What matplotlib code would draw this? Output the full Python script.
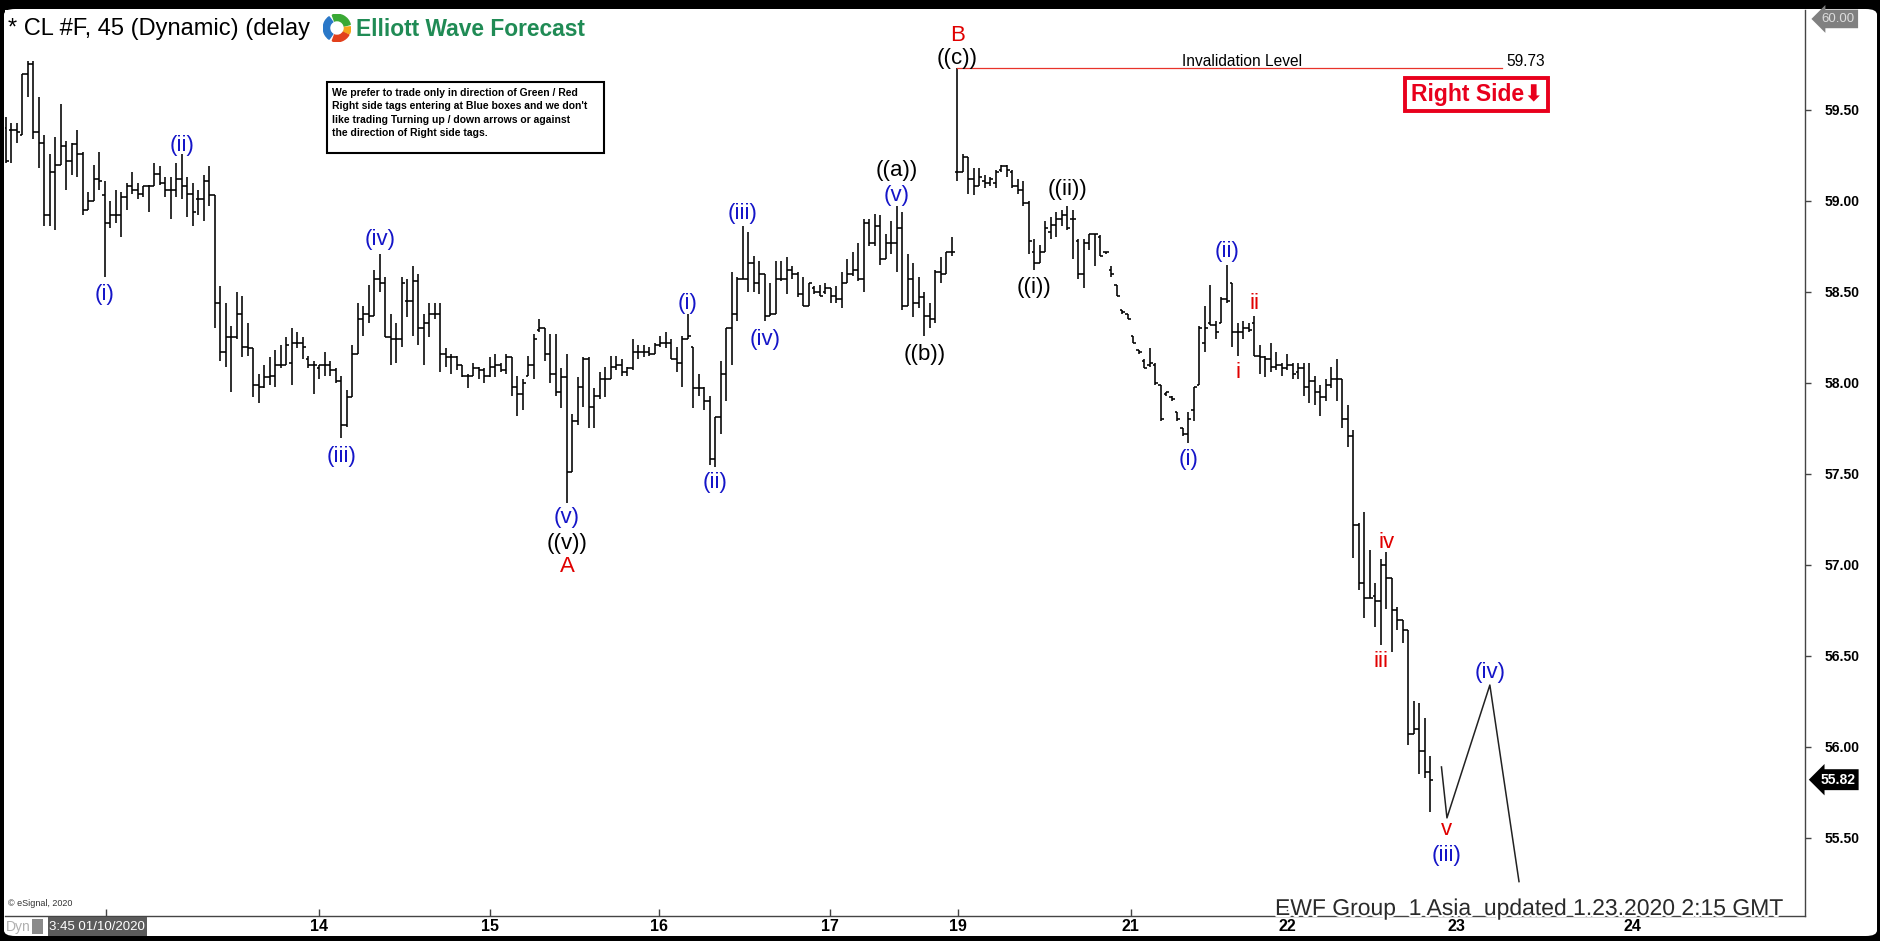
import numpy as np
import matplotlib
matplotlib.use("Agg")
import matplotlib.pyplot as plt
import matplotlib.patheffects as pe
from matplotlib.collections import LineCollection
from matplotlib.patches import Rectangle, FancyBboxPatch, Wedge

# --- CONFIG ---
W, H, DPI = 1881, 941, 100
BLUE = "#1515c8"
RED = "#e00000"
SANS = ["Liberation Sans", "DejaVu Sans"]
NARROW = ["Liberation Sans Narrow", "DejaVu Sans Condensed", "Liberation Sans", "DejaVu Sans"]

# --- DATA: CL #F 45 min bars ---
opens = [
    59.40, 59.39, 59.39, 59.36, 59.70, 59.75, 59.38, 59.32, 58.92, 59.16,
    59.20, 59.30, 59.22, 59.31, 59.26, 58.95, 59.00, 59.12, 59.03, 58.88,
    58.92, 58.92, 59.02, 59.08, 59.06, 59.04, 59.08, 59.08, 59.15, 59.10,
    59.06, 59.06, 59.12, 59.08, 59.04, 59.01, 59.01, 59.11, 59.03, 58.44,
    58.17, 58.25, 58.25, 58.38, 58.20, 58.19, 57.99, 57.98, 58.03, 58.04,
    58.10, 58.10, 58.11, 58.22, 58.22, 58.13, 58.10, 58.08, 58.10, 58.10,
    58.07, 58.01, 57.77, 57.92, 58.16, 58.35, 58.38, 58.37, 58.57, 58.55,
    58.25, 58.24, 58.24, 58.45, 58.45, 58.56, 58.30, 58.33, 58.38, 58.38,
    58.16, 58.14, 58.14, 58.10, 58.04, 58.04, 58.08, 58.07, 58.04, 58.09,
    58.10, 58.07, 58.14, 57.98, 57.94, 58.04, 58.10, 58.29, 58.30, 58.16,
    58.05, 57.95, 58.03, 57.51, 57.79, 57.98, 58.13, 57.87, 57.93, 58.02,
    58.02, 58.09, 58.10, 58.06, 58.08, 58.17, 58.17, 58.17, 58.16, 58.21,
    58.22, 58.22, 58.13, 58.11, 58.24, 58.20, 57.97, 57.97, 57.90, 57.58,
    57.81, 58.05, 58.30, 58.38, 58.57, 58.57, 58.66, 58.55, 58.60, 58.37,
    58.38, 58.57, 58.57, 58.62, 58.60, 58.49, 58.42, 58.52, 58.50, 58.50,
    58.52, 58.48, 58.46, 58.55, 58.60, 58.62, 58.57, 58.88, 58.77, 58.86,
    58.68, 58.77, 58.77, 58.85, 58.42, 58.57, 58.44, 58.47, 58.37, 58.35,
    58.61, 58.60, 58.72, 59.16, 59.16, 59.24, 59.12, 59.08, 59.11, 59.10,
    59.10, 59.17, 59.19, 59.16, 59.08, 59.06, 58.99, 58.72, 58.66, 58.72,
    58.83, 58.87, 58.90, 58.92, 58.90, 58.78, 58.60, 58.77, 58.82, 58.80,
    58.72, 58.62, 58.54, 58.40, 58.38, 58.26, 58.18, 58.12, 58.10, 58.10,
    57.99, 57.94, 57.92, 57.84, 57.75, 57.72, 57.85, 57.99, 58.22, 58.33,
    58.32, 58.33, 58.46, 58.55, 58.28, 58.28, 58.30, 58.33, 58.15, 58.14,
    58.13, 58.09, 58.10, 58.08, 58.10, 58.06, 58.08, 57.98, 58.01, 57.95,
    57.92, 57.99, 58.02, 58.02, 57.80, 57.71, 57.22, 56.90, 56.82, 56.83,
    56.80, 57.00, 56.93, 56.75, 56.70, 56.64, 56.07, 56.10, 55.98, 55.86,
]
highs = [
    59.46, 59.43, 59.43, 59.70, 59.77, 59.77, 59.57, 59.36, 59.26, 59.35,
    59.53, 59.33, 59.32, 59.39, 59.27, 59.05, 59.20, 59.27, 59.11, 59.00,
    59.06, 59.05, 59.10, 59.16, 59.10, 59.08, 59.09, 59.21, 59.19, 59.13,
    59.13, 59.21, 59.26, 59.13, 59.10, 59.06, 59.14, 59.19, 59.03, 58.53,
    58.44, 58.31, 58.50, 58.48, 58.33, 58.19, 58.05, 58.10, 58.14, 58.18,
    58.21, 58.25, 58.30, 58.28, 58.25, 58.15, 58.12, 58.10, 58.17, 58.12,
    58.08, 58.04, 57.96, 58.21, 58.44, 58.42, 58.54, 58.62, 58.71, 58.58,
    58.38, 58.33, 58.58, 58.57, 58.64, 58.60, 58.38, 58.44, 58.44, 58.44,
    58.19, 58.16, 58.15, 58.10, 58.05, 58.11, 58.09, 58.08, 58.14, 58.16,
    58.11, 58.16, 58.14, 58.04, 58.02, 58.15, 58.27, 58.35, 58.30, 58.27,
    58.27, 58.08, 58.16, 57.83, 58.03, 58.14, 58.14, 57.97, 58.06, 58.09,
    58.15, 58.15, 58.13, 58.09, 58.24, 58.21, 58.21, 58.20, 58.22, 58.26,
    58.28, 58.24, 58.20, 58.26, 58.38, 58.20, 58.05, 57.98, 57.93, 57.81,
    58.12, 58.30, 58.61, 58.58, 58.86, 58.83, 58.70, 58.67, 58.60, 58.55,
    58.67, 58.67, 58.69, 58.64, 58.61, 58.58, 58.55, 58.53, 58.54, 58.55,
    58.52, 58.53, 58.61, 58.68, 58.72, 58.77, 58.90, 58.90, 58.93, 58.92,
    58.82, 58.89, 58.97, 58.94, 58.71, 58.66, 58.58, 58.50, 58.44, 58.62,
    58.69, 58.72, 58.80, 59.73, 59.26, 59.24, 59.18, 59.18, 59.14, 59.13,
    59.17, 59.20, 59.20, 59.17, 59.12, 59.11, 59.00, 58.79, 58.76, 58.89,
    58.91, 58.94, 58.95, 58.97, 58.95, 58.79, 58.79, 58.82, 58.82, 58.81,
    58.72, 58.64, 58.54, 58.40, 58.38, 58.26, 58.18, 58.13, 58.19, 58.11,
    57.99, 57.95, 57.93, 57.84, 57.75, 57.84, 57.98, 58.31, 58.42, 58.54,
    58.34, 58.47, 58.65, 58.55, 58.33, 58.34, 58.33, 58.37, 58.21, 58.15,
    58.22, 58.17, 58.11, 58.16, 58.11, 58.11, 58.11, 58.11, 58.04, 57.99,
    58.02, 58.09, 58.13, 58.02, 57.88, 57.74, 57.23, 57.29, 57.08, 56.90,
    57.03, 57.07, 56.93, 56.77, 56.70, 56.64, 56.25, 56.24, 56.16, 55.95,
]
lows = [
    59.21, 59.21, 59.32, 59.36, 59.57, 59.34, 59.18, 58.86, 58.86, 58.84,
    59.20, 59.06, 59.14, 59.13, 58.92, 58.95, 59.00, 59.06, 58.58, 58.85,
    58.88, 58.80, 58.95, 59.04, 59.01, 59.02, 58.94, 59.08, 59.09, 59.02,
    58.90, 59.02, 59.01, 58.91, 58.86, 58.92, 58.89, 58.97, 58.30, 58.12,
    58.09, 57.95, 58.24, 58.14, 58.15, 57.92, 57.89, 57.97, 57.99, 57.98,
    58.08, 58.10, 57.99, 58.19, 58.13, 58.08, 57.94, 58.02, 58.04, 58.04,
    58.00, 57.70, 57.76, 57.92, 58.16, 58.26, 58.33, 58.37, 58.50, 58.25,
    58.10, 58.11, 58.20, 58.36, 58.26, 58.21, 58.10, 58.25, 58.35, 58.06,
    58.09, 58.05, 58.07, 58.03, 57.97, 58.04, 58.02, 58.00, 58.03, 58.03,
    58.06, 58.05, 57.93, 57.82, 57.85, 58.04, 58.02, 58.28, 58.12, 58.00,
    57.93, 57.86, 57.34, 57.51, 57.77, 57.87, 57.75, 57.75, 57.91, 57.92,
    58.02, 58.07, 58.04, 58.04, 58.07, 58.13, 58.14, 58.15, 58.16, 58.20,
    58.19, 58.13, 58.06, 57.98, 58.24, 57.86, 57.93, 57.85, 57.55, 57.54,
    57.72, 57.90, 58.10, 58.34, 58.57, 58.50, 58.50, 58.49, 58.34, 58.37,
    58.38, 58.56, 58.49, 58.57, 58.47, 58.42, 58.42, 58.49, 58.48, 58.49,
    58.44, 58.44, 58.41, 58.55, 58.59, 58.56, 58.50, 58.75, 58.75, 58.65,
    58.68, 58.71, 58.61, 58.40, 58.42, 58.36, 58.41, 58.26, 58.30, 58.33,
    58.55, 58.60, 58.70, 59.11, 59.16, 59.04, 59.03, 59.08, 59.07, 59.08,
    59.07, 59.16, 59.13, 59.07, 59.04, 58.97, 58.71, 58.62, 58.66, 58.72,
    58.79, 58.80, 58.86, 58.84, 58.68, 58.57, 58.52, 58.73, 58.64, 58.70,
    58.71, 58.58, 58.48, 58.38, 58.35, 58.22, 58.16, 58.08, 58.09, 57.99,
    57.79, 57.93, 57.90, 57.79, 57.71, 57.67, 57.79, 57.99, 58.17, 58.32,
    58.24, 58.33, 58.44, 58.20, 58.15, 58.24, 58.28, 58.15, 58.05, 58.03,
    58.06, 58.07, 58.04, 58.07, 58.02, 58.02, 57.93, 57.89, 57.88, 57.82,
    57.90, 57.97, 57.90, 57.75, 57.65, 57.04, 56.86, 56.71, 56.82, 56.66,
    56.56, 56.76, 56.52, 56.64, 56.57, 56.01, 56.07, 55.85, 55.83, 55.64,
]
closes = [
    59.22, 59.39, 59.38, 59.70, 59.75, 59.38, 59.32, 58.92, 59.16, 59.20,
    59.30, 59.22, 59.31, 59.26, 58.95, 59.00, 59.12, 59.11, 58.88, 58.92,
    58.92, 59.02, 59.08, 59.06, 59.04, 59.08, 59.08, 59.15, 59.10, 59.06,
    59.06, 59.12, 59.08, 59.04, 58.94, 59.01, 59.11, 59.03, 58.44, 58.17,
    58.25, 58.25, 58.38, 58.20, 58.19, 57.99, 57.98, 58.03, 58.04, 58.10,
    58.10, 58.21, 58.22, 58.22, 58.20, 58.10, 58.10, 58.10, 58.10, 58.07,
    58.01, 57.77, 57.92, 58.16, 58.35, 58.38, 58.37, 58.57, 58.55, 58.25,
    58.24, 58.24, 58.55, 58.45, 58.56, 58.30, 58.33, 58.38, 58.38, 58.16,
    58.14, 58.14, 58.10, 58.04, 58.04, 58.08, 58.07, 58.04, 58.09, 58.10,
    58.07, 58.14, 57.98, 57.94, 58.00, 58.10, 58.24, 58.30, 58.16, 58.05,
    57.95, 58.03, 57.51, 57.79, 57.98, 58.13, 57.87, 57.93, 58.02, 58.02,
    58.09, 58.10, 58.06, 58.08, 58.17, 58.17, 58.17, 58.16, 58.21, 58.22,
    58.22, 58.13, 58.11, 58.24, 58.26, 57.97, 57.97, 57.90, 57.58, 57.81,
    58.05, 58.30, 58.38, 58.57, 58.57, 58.66, 58.55, 58.60, 58.37, 58.38,
    58.57, 58.57, 58.62, 58.60, 58.49, 58.42, 58.55, 58.50, 58.48, 58.52,
    58.48, 58.46, 58.55, 58.60, 58.62, 58.57, 58.88, 58.77, 58.86, 58.68,
    58.77, 58.77, 58.85, 58.42, 58.57, 58.44, 58.47, 58.37, 58.35, 58.61,
    58.60, 58.72, 58.72, 59.16, 59.24, 59.12, 59.08, 59.13, 59.10, 59.12,
    59.16, 59.19, 59.17, 59.08, 59.06, 58.99, 58.78, 58.66, 58.72, 58.85,
    58.87, 58.90, 58.92, 58.85, 58.90, 58.60, 58.77, 58.82, 58.82, 58.70,
    58.72, 58.60, 58.48, 58.39, 58.35, 58.22, 58.17, 58.08, 58.11, 58.00,
    57.80, 57.95, 57.91, 57.80, 57.72, 57.80, 57.98, 58.30, 58.30, 58.32,
    58.28, 58.46, 58.45, 58.28, 58.28, 58.30, 58.29, 58.15, 58.14, 58.13,
    58.09, 58.10, 58.08, 58.10, 58.05, 58.08, 57.98, 58.01, 57.95, 57.92,
    57.99, 58.02, 58.02, 57.80, 57.71, 57.22, 56.90, 56.82, 56.82, 56.80,
    57.00, 56.93, 56.75, 56.70, 56.64, 56.07, 56.10, 55.98, 55.86, 55.82,
]

# day separators (bar index) and their labels; the first one sits under the time box
day_ticks = [18.1, 56.9, 88.0, 118.7, 149.8, 173.1, 204.5, 232.9, 263.8, 295.8]
day_labels = ["", "14", "15", "16", "17", "19", "21", "22", "23", "24"]
price_ticks = [55.5, 56.0, 56.5, 57.0, 57.5, 58.0, 58.5, 59.0, 59.5]

# projected path after the last bar: v of (iii), (iv), then lower
proj_x = [261.0, 262.0, 269.8, 275.1]
proj_y = [55.89, 55.61, 56.34, 55.26]

b_bar = 173          # wave B / ((c)) high
inv_end = 272        # end of invalidation line

# wave labels: bar, text, colour, offset in px from bar extreme (+ below low, - above high)
wave_bar = [18, 32, 61, 68, 102, 102, 102, 124, 129, 134, 138, 162, 162, 167,
            173, 173, 187, 193, 215, 222, 224, 227, 250, 251]
wave_text = ["(i)", "(ii)", "(iii)", "(iv)", "(v)", "((v))", "A", "(i)", "(ii)",
             "(iii)", "(iv)", "(v)", "((a))", "((b))", "((c))", "B", "((i))",
             "((ii))", "(i)", "(ii)", "i", "ii", "iii", "iv"]
wave_color = [BLUE, BLUE, BLUE, BLUE, BLUE, "black", RED, BLUE, BLUE, BLUE, BLUE,
              BLUE, "black", "black", "black", RED, "black", "black", BLUE, BLUE,
              RED, RED, RED, RED]
wave_dy = [17, -8, 19, -14, 14, 40, 63, -10, 16, -13, 18, -11, -36, 19,
           -10, -33, 17, -17, 17, -13, 17, -12, 16, -10]

# labels on the projected path: point index, text, colour, offset px
proj_lab_pt = [1, 1, 2]
proj_lab_text = ["v", "(iii)", "(iv)"]
proj_lab_color = [RED, BLUE, BLUE]
proj_lab_dy = [12, 38, -13]


def fx(x):
    return x / W


def fy(y):
    return 1 - y / H


# --- FIGURE ---
fig = plt.figure(figsize=(W / DPI, H / DPI), dpi=DPI, facecolor="black")
panel = FancyBboxPatch((fx(4), fy(936)), 1873 / W, 927 / H,
                       boxstyle="round,pad=0,rounding_size=0.006",
                       transform=fig.transFigure, fc="white", ec="none", zorder=-1)
fig.patches.append(panel)

ax = fig.add_axes([fx(5), fy(916), 1800 / W, 906 / H])
ax.set_facecolor("white")
ax.set_xlim(-0.18, 327.1)
ax.set_ylim(55.071, 60.049)

# OHLC bars
idx = np.arange(len(highs))
segs = [[(i, l), (i, h)] for i, h, l in zip(idx, highs, lows)]
segs += [[(i - 0.5, o), (i, o)] for i, o in zip(idx, opens)]
segs += [[(i, c), (i + 0.5, c)] for i, c in zip(idx, closes)]
ax.add_collection(LineCollection(segs, colors="black", linewidths=1.15))

# projection
ax.plot(proj_x, proj_y, color="#222222", lw=1.1)

# invalidation level
inv_level = highs[b_bar]
ax.plot([b_bar, inv_end], [inv_level, inv_level], color="#e8332a", lw=0.9)
ax.annotate("Invalidation Level", xy=(224.7, inv_level), xytext=(0, -0.5),
            textcoords="offset points", ha="center", va="bottom",
            fontsize=11.2, family=SANS)
ax.annotate(f"{inv_level:.2f}", xy=(279.8, inv_level), xytext=(0, -0.5),
            textcoords="offset points", ha="right", va="bottom",
            fontsize=11.2, family=SANS)
ax.text(267.4, 59.585, "Right Side\u2B07", ha="center", va="center", fontsize=16.5,
        fontweight="bold", color="#e8001c", family=NARROW,
        bbox=dict(boxstyle="square,pad=0.22", fc="white", ec="#e8001c", lw=2.8))

# wave labels
for b, t, c, dy in zip(wave_bar, wave_text, wave_color, wave_dy):
    base = lows[b] if dy > 0 else highs[b]
    ax.annotate(t, xy=(b, base), xytext=(0, -dy * 0.72), textcoords="offset points",
                ha="center", va="center", fontsize=16, color=c, family=SANS)
for k, t, c, dy in zip(proj_lab_pt, proj_lab_text, proj_lab_color, proj_lab_dy):
    ax.annotate(t, xy=(proj_x[k], proj_y[k]), xytext=(0, -dy * 0.72),
                textcoords="offset points", ha="center", va="center",
                fontsize=16, color=c, family=SANS)

# --- AXES STYLE ---
for s in ["top", "left"]:
    ax.spines[s].set_visible(False)
for s in ["right", "bottom"]:
    ax.spines[s].set_color("#444444")
    ax.spines[s].set_linewidth(1)

ax.yaxis.tick_right()
ax.set_yticks(price_ticks)
ax.set_yticklabels([f"{p:.2f}" for p in price_ticks])
ax.tick_params(axis="y", direction="out", length=4, width=1, color="#444444", pad=10,
               labelsize=10)
for lab in ax.get_yticklabels():
    lab.set_fontweight("bold")
    lab.set_family(SANS)

ax.set_xticks(day_ticks)
ax.set_xticklabels(day_labels)
ax.tick_params(axis="x", direction="in", length=5, width=1, color="#444444", pad=2,
               labelsize=11.5)
for lab in ax.get_xticklabels():
    lab.set_fontweight("bold")
    lab.set_family(NARROW)

# price tags on the right scale
ax.annotate("60.00", xy=(1.0, 60.0), xycoords=("axes fraction", "data"),
            xytext=(12, 0), textcoords="offset points", ha="left", va="center",
            fontsize=9.5, color="#dddddd", family=SANS,
            bbox=dict(boxstyle="larrow,pad=0.25", fc="#808080", ec="none"))
ax.annotate(f"{closes[-1]:.2f}", xy=(1.0, closes[-1]), xycoords=("axes fraction", "data"),
            xytext=(11, 0), textcoords="offset points", ha="left", va="center",
            fontsize=10, fontweight="bold", color="white", family=SANS,
            bbox=dict(boxstyle="larrow,pad=0.25", fc="black", ec="none"))

# --- HEADER ---
fig.text(fx(8), fy(29), "* CL #F, 45 (Dynamic) (delay", fontsize=17, va="center",
         family=SANS)
lax = fig.add_axes([fx(323), fy(42), 28 / W, 28 / H])
lax.set_xlim(-1, 1)
lax.set_ylim(-1, 1)
lax.set_aspect("equal")
lax.axis("off")
for t1, t2, col in [(15, 110, "#3aa935"), (125, 235, "#2a78c8"),
                    (250, 330, "#e2401c"), (335, 365, "#f5a31a")]:
    lax.add_patch(Wedge((0, 0), 0.98, t1, t2, width=0.45, color=col))
fig.text(fx(356), fy(29), "Elliott Wave Forecast", fontsize=16.4, fontweight="bold",
         color="#208b55", va="center", family=SANS)

# note box
fig.patches.append(Rectangle((fx(327), fy(153)), 277 / W, 71 / H, transform=fig.transFigure,
                             fc="white", ec="black", lw=1.5, zorder=2))
note = ("We prefer to trade only in direction of Green / Red\n"
        "Right side tags entering at Blue boxes and we don't\n"
        "like trading Turning up / down arrows or against\n"
        "the direction of Right side tags.")
fig.text(fx(332), fy(88), note, fontsize=7.5, fontweight="bold", va="top",
         linespacing=1.42, family=SANS, zorder=3)

# --- FOOTER ---
fig.text(fx(8), fy(903), "\u00a9 eSignal, 2020", fontsize=6.5, color="#333333",
         va="center", family=NARROW)
fig.text(fx(1275), fy(915), "EWF Group  1 Asia  updated 1.23.2020 2:15 GMT",
         fontsize=16.5, color="#2a2a2a", va="baseline", family=SANS,
         path_effects=[pe.Stroke(linewidth=3, foreground="white"), pe.Normal()])
fig.text(fx(6), fy(927), "Dyn", fontsize=10, color="#b0b0b0", va="center", family=NARROW)
fig.patches.append(Rectangle((fx(32), fy(934)), 11 / W, 15 / H, transform=fig.transFigure,
                             fc="#8a8a8a", ec="none", zorder=2))
fig.patches.append(Rectangle((fx(48), fy(936)), 99 / W, 19 / H, transform=fig.transFigure,
                             fc="#5b5b5b", ec="none", zorder=2))
fig.text(fx(97), fy(927), "3:45 01/10/2020", fontsize=9.5, color="white", ha="center",
         va="center", family=NARROW, zorder=3)

fig.savefig("out.png", dpi=DPI, facecolor="black")
